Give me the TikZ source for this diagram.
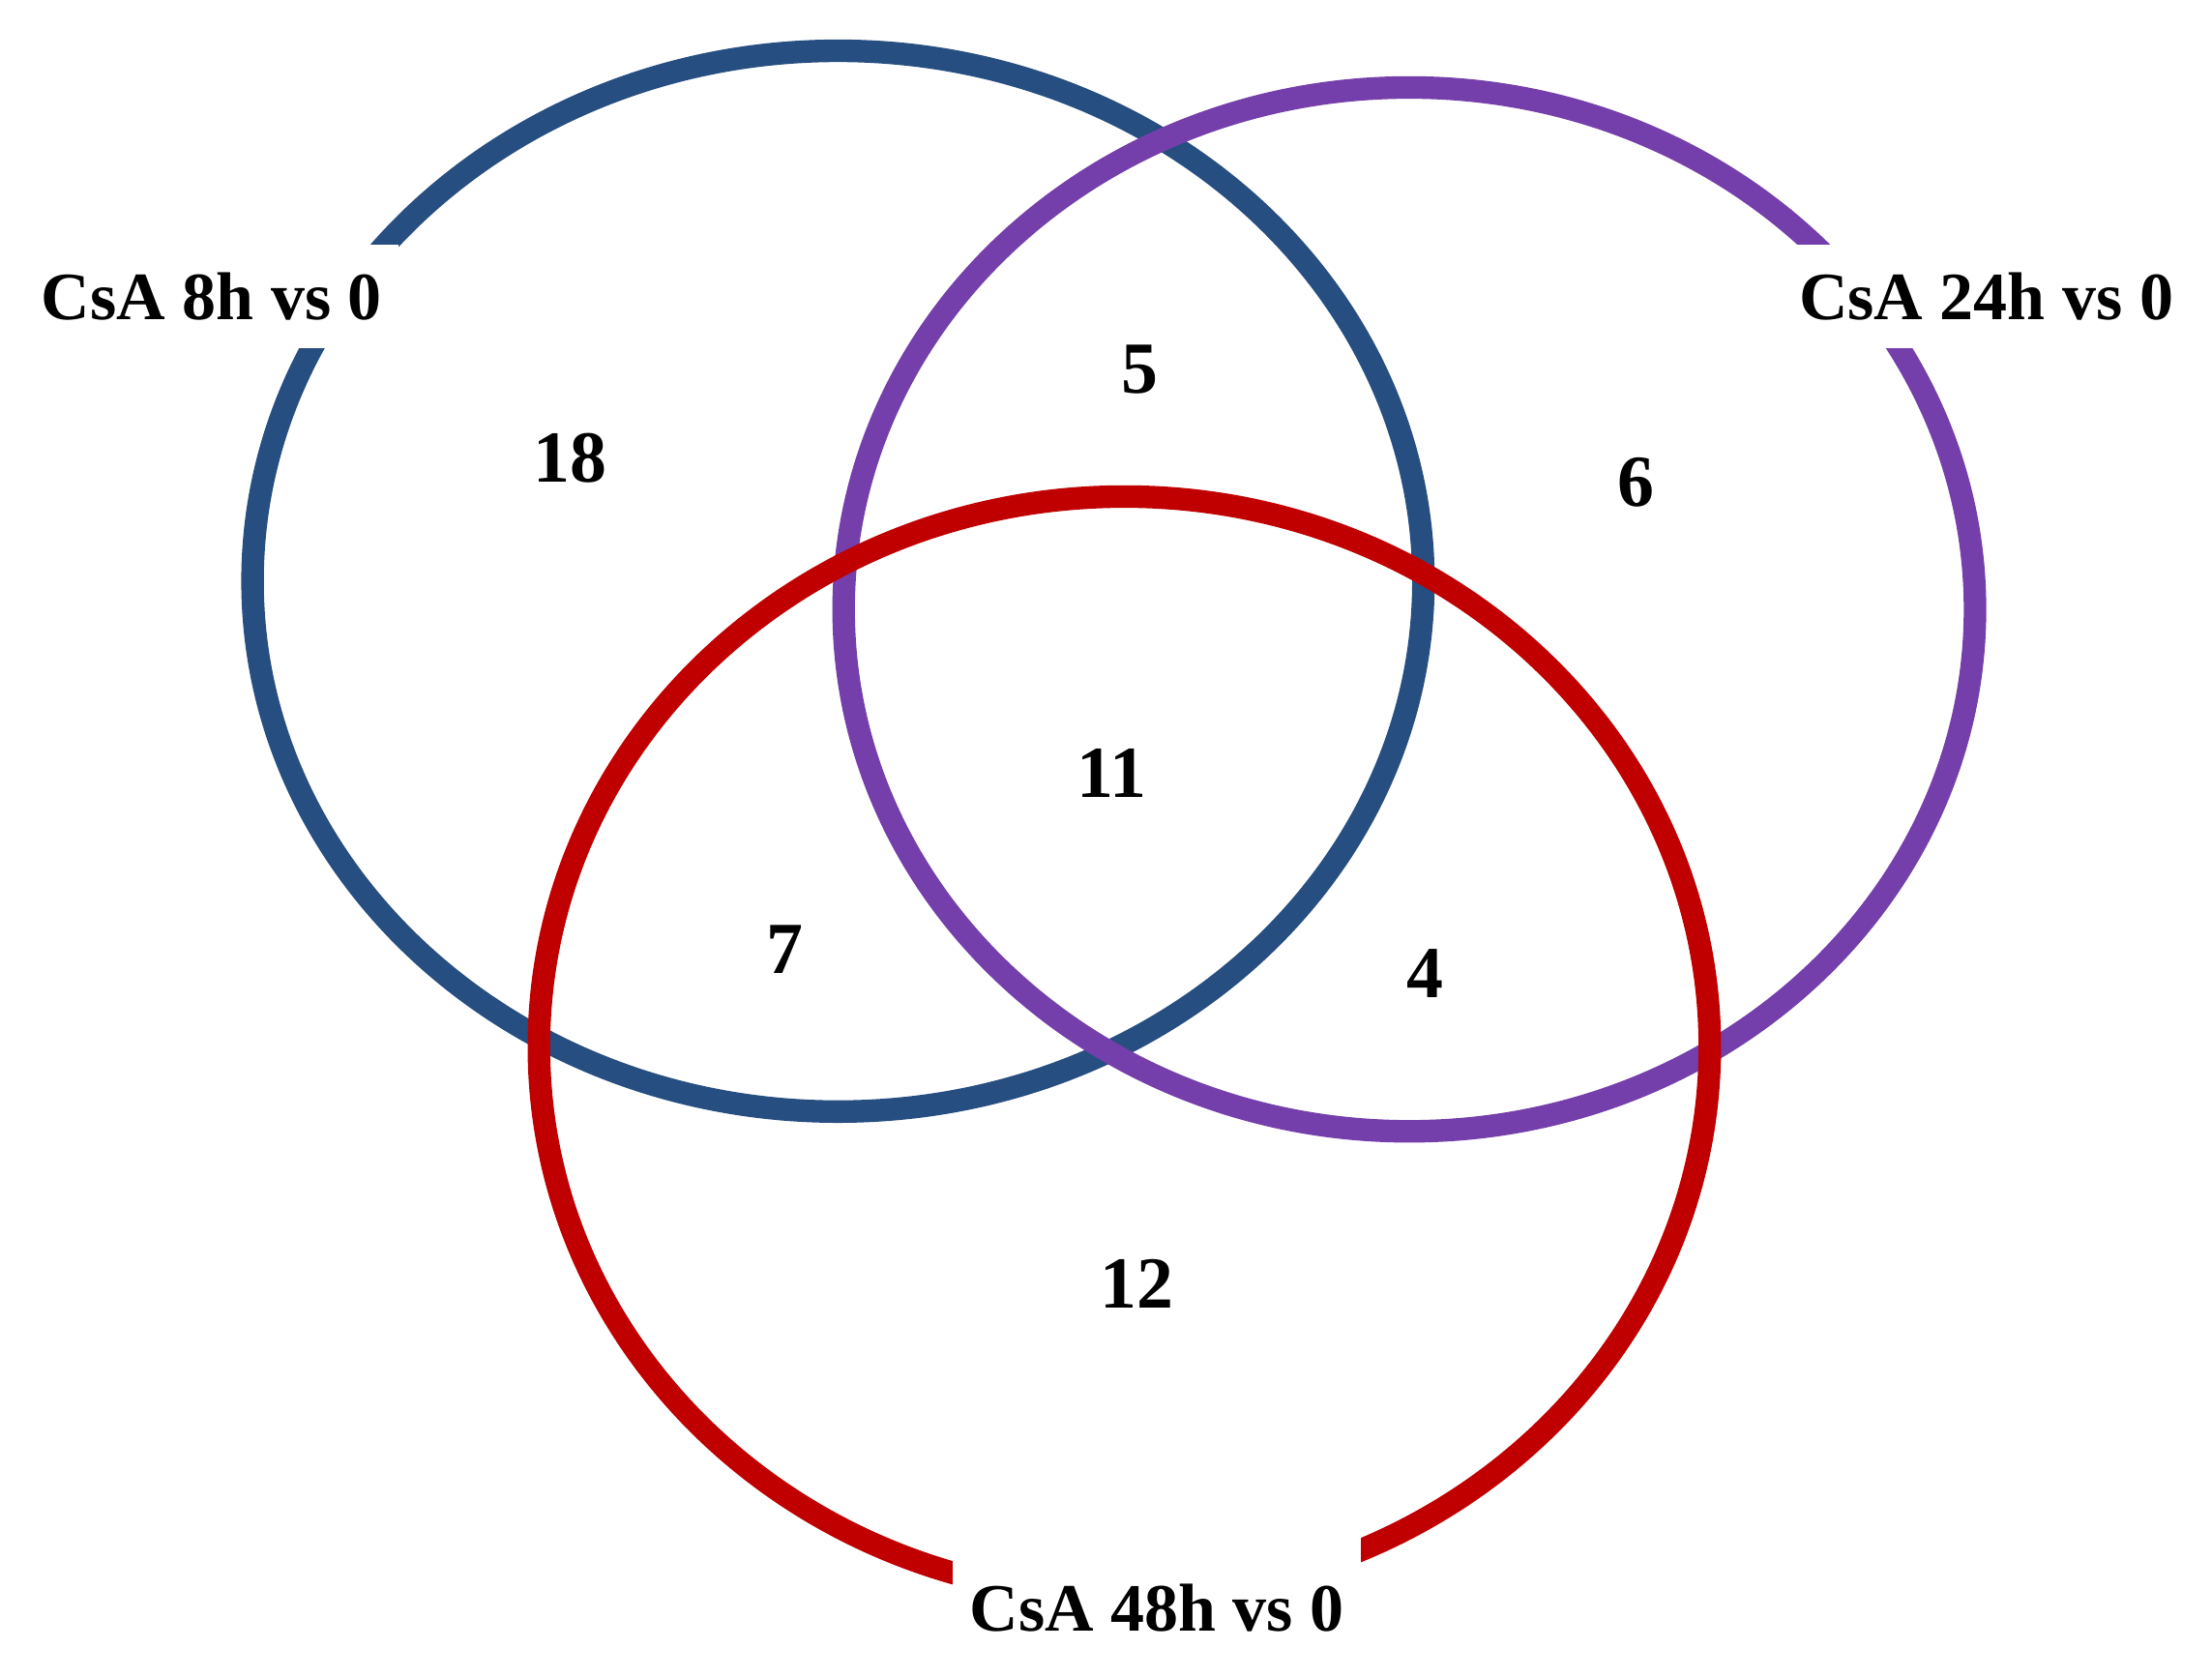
\documentclass[tikz,border=0pt]{standalone}
\usepackage{fontspec}
\setmainfont{Liberation Serif}
\definecolor{setblue}{RGB}{38,78,128}
\definecolor{setpurple}{RGB}{117,63,171}
\definecolor{setred}{RGB}{192,0,0}
\tikzset{
	set ring/.style={line width=8pt},
	set label/.style={fill=white, inner xsep=6pt, inner ysep=10pt, font=\fontsize{24}{28}\selectfont\bfseries},
	count/.style={font=\fontsize{26}{30}\selectfont\bfseries}}

\begin{document}
\begin{tikzpicture}[x=0.5pt,y=0.5pt,yscale=-1,xscale=1]
	\useasboundingbox (0,0) rectangle (1568,1189);

	% Sets
	\draw [set ring, setblue] (594,412) ellipse [x radius=415, y radius=376];
	\draw [set ring, setpurple] (999,432) ellipse [x radius=401, y radius=370];
	\draw [set ring, setred] (797,742) ellipse [x radius=415, y radius=390];

	% Set labels
	\node [set label] (lab8) at (150,210) {CsA 8h vs 0};
	\node [set label] (lab24) at (1408,210) {CsA 24h vs 0};
	\node [set label, inner ysep=22pt] (lab48) at (820,1140) {CsA 48h vs 0};

	% Counts
	\node [count] (only8) at (404,325) {18};
	\node [count] (both8and24) at (808,262) {5};
	\node [count] (only24) at (1160,342) {6};
	\node [count] (all) at (788,548) {11};
	\node [count] (both8and48) at (556,673) {7};
	\node [count] (both24and48) at (1010,690) {4};
	\node [count] (only48) at (806,910) {12};
\end{tikzpicture}
\end{document}
